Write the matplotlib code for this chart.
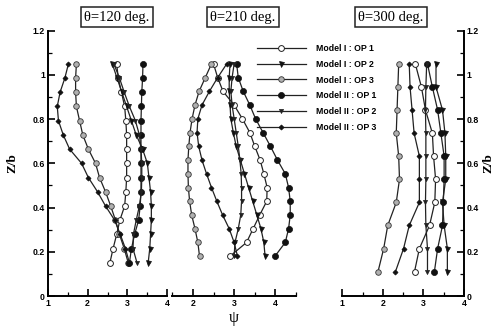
import numpy as np
import matplotlib
matplotlib.use("Agg")
from matplotlib import pyplot as plt
from matplotlib.ticker import MultipleLocator

# heights Z/b for each panel (bottom -> top)
z120 = np.linspace(0.15, 1.05, 15)
z210 = np.linspace(0.18, 1.05, 15)
z300 = np.linspace(0.11, 1.05, 10)

titles = ["\u03b8=120 deg.", "\u03b8=210 deg.", "\u03b8=300 deg."]
labels = ["Model I : OP 1", "Model I : OP 2", "Model I : OP 3",
          "Model II : OP 1", "Model II : OP 2", "Model II : OP 3"]

# psi values, theta = 120 deg
p120_m1op1 = [2.56, 2.64, 2.73, 2.81, 2.93, 2.96, 2.98, 2.98, 2.98, 2.98, 2.96, 2.93, 2.85, 2.77, 2.73]
p120_m1op2 = [3.52, 3.56, 3.58, 3.60, 3.60, 3.58, 3.54, 3.50, 3.38, 3.22, 3.10, 2.98, 2.86, 2.74, 2.62]
p120_m1op3 = [3.02, 2.92, 2.80, 2.70, 2.58, 2.45, 2.30, 2.20, 2.02, 1.88, 1.80, 1.72, 1.70, 1.70, 1.72]
p120_m2op1 = [3.05, 3.10, 3.18, 3.28, 3.32, 3.34, 3.34, 3.34, 3.34, 3.34, 3.34, 3.35, 3.36, 3.38, 3.39]
p120_m2op2 = [3.24, 3.14, 3.15, 3.22, 3.30, 3.35, 3.36, 3.36, 3.34, 3.30, 3.20, 3.05, 2.92, 2.80, 2.66]
p120_m2op3 = [3.05, 2.95, 2.82, 2.68, 2.45, 2.25, 2.02, 1.85, 1.55, 1.39, 1.27, 1.24, 1.31, 1.43, 1.52]

# theta = 210 deg
p210_m1op1 = [2.90, 3.30, 3.46, 3.62, 3.79, 3.80, 3.72, 3.63, 3.50, 3.38, 3.20, 3.00, 2.73, 2.60, 2.50]
p210_m1op2 = [3.75, 3.72, 3.65, 3.55, 3.45, 3.35, 3.25, 3.15, 3.05, 2.98, 2.92, 2.90, 2.88, 2.88, 2.90]
p210_m1op3 = [2.16, 2.12, 2.05, 1.97, 1.92, 1.89, 1.88, 1.88, 1.90, 1.93, 1.98, 2.05, 2.15, 2.30, 2.45]
p210_m2op1 = [3.99, 4.24, 4.32, 4.36, 4.36, 4.32, 4.24, 4.05, 3.88, 3.70, 3.52, 3.38, 3.22, 3.10, 3.06]
p210_m2op2 = [3.00, 3.02, 3.10, 3.16, 3.18, 3.18, 3.17, 3.14, 3.10, 3.05, 3.00, 2.95, 2.92, 2.95, 3.00]
p210_m2op3 = [3.08, 3.00, 2.88, 2.72, 2.58, 2.45, 2.33, 2.22, 2.14, 2.10, 2.12, 2.22, 2.40, 2.60, 2.82]

# theta = 300 deg
p300_m1op1 = [2.78, 2.90, 3.15, 3.28, 3.30, 3.25, 3.22, 3.05, 2.95, 2.80]
p300_m1op2 = [3.59, 3.59, 3.51, 3.47, 3.55, 3.55, 3.53, 3.47, 3.31, 3.31]
p300_m1op3 = [1.88, 2.02, 2.12, 2.33, 2.41, 2.39, 2.33, 2.35, 2.37, 2.39]
p300_m2op1 = [3.27, 3.35, 3.47, 3.49, 3.51, 3.51, 3.43, 3.35, 3.22, 3.10]
p300_m2op2 = [3.10, 3.10, 3.06, 3.05, 3.06, 3.06, 3.06, 3.05, 3.06, 3.08]
p300_m2op3 = [2.31, 2.51, 2.65, 2.90, 2.90, 2.90, 2.77, 2.72, 2.67, 2.65]

panels = [
    (z120, [p120_m1op1, p120_m1op2, p120_m1op3, p120_m2op1, p120_m2op2, p120_m2op3]),
    (z210, [p210_m1op1, p210_m1op2, p210_m1op3, p210_m2op1, p210_m2op2, p210_m2op3]),
    (z300, [p300_m1op1, p300_m1op2, p300_m1op3, p300_m2op1, p300_m2op2, p300_m2op3]),
]

styles = [
    dict(marker="o", ms=4.2, mfc="white", mec="#222222", mew=0.7),
    dict(marker="v", ms=3.6, mfc="#111111", mec="#111111", mew=0.5),
    dict(marker="o", ms=4.0, mfc="#b0b0b0", mec="#333333", mew=0.6),
    dict(marker="o", ms=4.4, mfc="#111111", mec="#111111", mew=0.5),
    dict(marker="v", ms=3.0, mfc="#222222", mec="#222222", mew=0.5),
    dict(marker="D", ms=2.6, mfc="#111111", mec="#111111", mew=0.5),
]

W, H = 503, 328
fig = plt.figure(figsize=(W / 100, H / 100), dpi=100)

# axes rectangles in pixels: left, right, (bottom y=296, top y=30.7)
rects = [(47.7, 167.3), (172.3, 296.0), (342.3, 464.0)]
xlims = [(1, 4), (1.5, 4.5), (1, 4)]
ybot, ytop = 296.0, 30.7

tickfont = dict(family="Liberation Sans", weight="bold", size=6.3)
serif = ["Liberation Serif", "DejaVu Serif"]

axes = []
for i, ((x0, x1), (z, series)) in enumerate(zip(rects, panels)):
    ax = fig.add_axes([x0 / W, 1 - ybot / H, (x1 - x0) / W, (ybot - ytop) / H])
    axes.append(ax)
    for vals, st in zip(series, styles):
        ax.plot(vals, z, color="#222222", lw=0.9, **st)
    ax.set_xlim(*xlims[i])
    ax.set_ylim(0, 1.2)
    for s in ax.spines.values():
        s.set_visible(False)
        s.set_linewidth(1.4)
    ax.spines["bottom"].set_visible(True)
    ax.xaxis.set_major_locator(MultipleLocator(1))
    ax.xaxis.set_minor_locator(MultipleLocator(0.5))
    ax.yaxis.set_major_locator(MultipleLocator(0.2))
    ax.yaxis.set_minor_locator(MultipleLocator(0.1))
    ax.tick_params(axis="x", which="major", direction="in", length=5, width=1.2, pad=2)
    ax.tick_params(axis="x", which="minor", direction="in", length=3, width=0.9)
    ax.tick_params(axis="y", which="major", direction="in", length=5, width=1.2, pad=2)
    ax.tick_params(axis="y", which="minor", direction="in", length=3, width=0.9)
    ax.set_xticks([t for t in [1, 2, 3, 4] if xlims[i][0] <= t <= xlims[i][1]])
    if i == 0:
        ax.spines["left"].set_visible(True)
        ax.yaxis.set_ticks_position("left")
    elif i == 2:
        ax.spines["right"].set_visible(True)
        ax.yaxis.set_ticks_position("right")
        ax.yaxis.set_label_position("right")
    else:
        ax.tick_params(axis="y", which="both", left=False, right=False, labelleft=False)
    for lab in ax.get_xticklabels() + ax.get_yticklabels():
        lab.set_fontproperties(tickfont)
    ax.yaxis.set_major_formatter(plt.FuncFormatter(lambda v, p: "0" if v == 0 else f"{v:g}"))
    ax.patch.set_alpha(0)

# title boxes
title_pos = [(117, 17), (243, 17), (391, 17)]
for t, (x, y) in zip(titles, title_pos):
    fig.text(x / W, 1 - y / H, t, ha="center", va="center", fontsize=10.5, family=serif,
             bbox=dict(boxstyle="square,pad=0.25", fc="white", ec="#222222", lw=1.1))

# axis labels
fig.text(12 / W, 1 - 163 / H, "Z/b", rotation=90, ha="center", va="center",
         fontsize=9.5, weight="bold", family=serif)
fig.text(488 / W, 1 - 163 / H, "Z/b", rotation=90, ha="center", va="center",
         fontsize=9.5, weight="bold", family=serif)
fig.text(234 / W, 1 - 318 / H, "\u03c8", ha="center", va="center", fontsize=11.5, family=serif)

# legend
handles = axes[1].get_lines()[:6]
leg = fig.legend(handles, labels, loc="upper left", bbox_to_anchor=(249 / W, 1 - 36 / H),
                 frameon=False, handlelength=5.6, handletextpad=1.1, labelspacing=0.78,
                 prop=dict(family="Liberation Sans", weight="bold", size=6.3))

fig.savefig("out.png", dpi=100)
